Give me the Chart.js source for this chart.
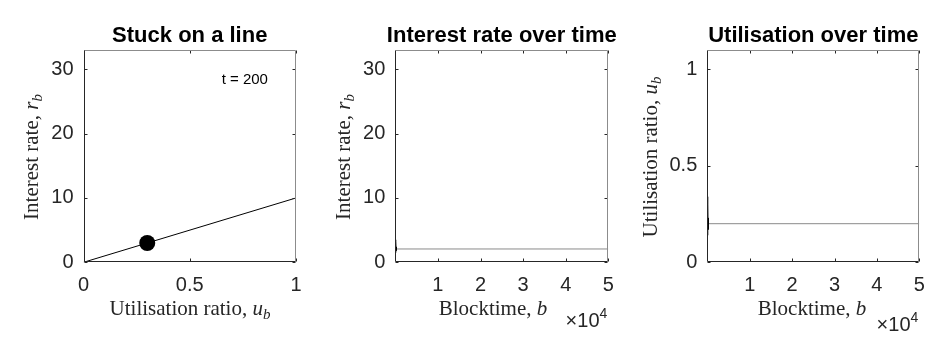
<!DOCTYPE html>
<html>
<head>
<meta charset="utf-8">
<script src="https://cdn.jsdelivr.net/npm/chart.js@4/dist/chart.umd.min.js"></script>
<style>
  body { margin: 0; background: #fff; width: 940px; height: 359px; overflow: hidden; position: relative; }
  .panel { position: absolute; top: 0; height: 359px; }
</style>
</head>
<body>
<div class="panel" style="left:0;width:320px"><canvas id="c1" width="320" height="359"></canvas></div>
<div class="panel" style="left:320px;width:310px"><canvas id="c2" width="310" height="359"></canvas></div>
<div class="panel" style="left:630px;width:310px"><canvas id="c3" width="310" height="359"></canvas></div>
<script>
/* ---- data ---- */
// panel 1: rate curve and the current state
const curveU = [0, 1];
const curveR = [0, 10];
const stateU = [0.3];
const stateR = [3];
const stateLabel = 't = 200';

// panels 2 & 3: short start-up wobble, then flat
const earlyBlock = [0, 60, 120, 180, 240, 300];
const earlyRate = [3.5, 1.5, 3.2, 1.8, 2.4, 2.07];
const earlyUtil = [0.34, 0.14, 0.3, 0.17, 0.23, 0.2];
const lateBlock = [300, 50000];
const lateRate = [2.07, 2.07];
const lateUtil = [0.2, 0.2];

// ticks
const uTicks = [0, 0.5, 1];
const rTicks = [0, 10, 20, 30];
const utilTicks = [0, 0.5, 1];
const blockTicks = [10000, 20000, 30000, 40000, 50000];

const TXT = '#262626';
const SANS = '"Liberation Sans", Arial, sans-serif';
const SERIF = '"Liberation Serif", "Times New Roman", serif';

function pts(xs, ys) { return xs.map((x, i) => ({ x: x, y: ys[i] })); }

// draw a run of differently styled text pieces
function drawRich(ctx, parts, x, y, align, rot) {
    ctx.save();
    ctx.translate(x, y);
    if (rot) ctx.rotate(rot);
    let w = 0;
    parts.forEach(p => { ctx.font = p.font; w += ctx.measureText(p.text).width; });
    let cx = align === 'center' ? -w / 2 : (align === 'right' ? -w : 0);
    ctx.textAlign = 'left';
    ctx.textBaseline = 'alphabetic';
    parts.forEach(p => {
        ctx.font = p.font;
        ctx.fillStyle = p.color || TXT;
        ctx.fillText(p.text, cx, p.dy || 0);
        cx += ctx.measureText(p.text).width;
    });
    ctx.restore();
}

function serifLabel(main, sym, sub) {
    return [
        { text: main, font: '21px ' + SERIF },
        { text: sym, font: 'italic 21px ' + SERIF },
        { text: sub, font: 'italic 15px ' + SERIF, dy: 4 }
    ];
}

// MATLAB-like box, inward ticks and the labels around it
const decor = {
    id: 'decor',
    afterDraw(chart, args, o) {
        const ctx = chart.ctx, a = chart.chartArea;
        const xs = chart.scales.x, ys = chart.scales.y;
        const L = Math.round(a.left) + 0.5, R = Math.round(a.right) - 0.5;
        const T = Math.round(a.top) + 0.5, B = Math.round(a.bottom) - 0.5;
        ctx.save();
        ctx.lineWidth = 1;
        // ticks
        ctx.strokeStyle = TXT;
        ctx.beginPath();
        xs.ticks.forEach(t => {
            const px = Math.round(xs.getPixelForValue(t.value)) + 0.5;
            ctx.moveTo(px, B); ctx.lineTo(px, B - 3);
            ctx.moveTo(px, T); ctx.lineTo(px, T + 3);
        });
        ys.ticks.forEach(t => {
            const py = Math.round(ys.getPixelForValue(t.value)) + 0.5;
            ctx.moveTo(L, py); ctx.lineTo(L + 3, py);
            ctx.moveTo(R, py); ctx.lineTo(R - 3, py);
        });
        ctx.stroke();
        // box
        ctx.strokeStyle = '#8c8c8c';
        ctx.beginPath();
        ctx.moveTo(L, T); ctx.lineTo(R, T); ctx.lineTo(R, B);
        ctx.stroke();
        ctx.strokeStyle = TXT;
        ctx.beginPath();
        ctx.moveTo(L, T); ctx.lineTo(L, B); ctx.lineTo(R, B);
        ctx.stroke();
        ctx.restore();

        // title
        ctx.save();
        ctx.font = 'bold 22px ' + SANS;
        ctx.fillStyle = '#000';
        ctx.textAlign = 'center';
        ctx.textBaseline = 'alphabetic';
        ctx.fillText(o.title, (a.left + a.right) / 2, 42);
        ctx.restore();

        drawRich(ctx, o.xTitle, o.xTitlePos[0], o.xTitlePos[1], 'center');
        drawRich(ctx, o.yTitle, o.yTitleX, 157, 'center', -Math.PI / 2);

        if (o.exponent) {
            drawRich(ctx, [
                { text: '\u00d710', font: '20px ' + SANS },
                { text: '4', font: '14px ' + SANS, dy: -9 }
            ], a.right - 1, o.exponent, 'right');
        }
        if (o.note) {
            ctx.save();
            ctx.font = '15px ' + SANS;
            ctx.fillStyle = '#000';
            ctx.textAlign = 'left';
            ctx.textBaseline = 'middle';
            ctx.fillText(o.note.text, xs.getPixelForValue(o.note.x), ys.getPixelForValue(o.note.y));
            ctx.restore();
        }
    }
};

function axis(min, max, tickVals, fmt, fixed, isX) {
    return {
        type: 'linear',
        min: min,
        max: max,
        grid: { display: false, drawTicks: false },
        border: { display: false },
        afterBuildTicks: s => { s.ticks = tickVals.map(v => ({ value: v })); },
        afterFit: s => { if (isX) s.height = fixed; else s.width = fixed; },
        ticks: {
            color: TXT,
            font: { family: SANS, size: 20 },
            padding: isX ? 11 : 10,
            maxRotation: 0,
            autoSkip: false,
            callback: fmt
        }
    };
}

function makeChart(id, datasets, scales, padRight, decorOpts) {
    return new Chart(document.getElementById(id), {
        type: 'scatter',
        data: { datasets: datasets },
        options: {
            responsive: false,
            animation: false,
            layout: { padding: { top: 50, right: padRight, bottom: 0, left: 0 } },
            plugins: { legend: { display: false }, tooltip: { enabled: false }, decor: decorOpts },
            scales: scales
        },
        plugins: [decor]
    });
}

const plain = v => String(v);
const blockFmt = v => String(v / 10000);

// panel 1
makeChart('c1', [
    { data: pts(stateU, stateR), pointRadius: 8, pointBackgroundColor: '#000', pointBorderWidth: 0, showLine: false },
    { data: pts(curveU, curveR), showLine: true, borderColor: '#000', borderWidth: 1, pointRadius: 0 }
], {
    x: axis(0, 1, uTicks, plain, 96.7, true),
    y: axis(0, 33, rTicks, plain, 83.5, false)
}, 24, {
    title: 'Stuck on a line',
    xTitle: serifLabel('Utilisation ratio, ', 'u', 'b'),
    xTitlePos: [190, 315],
    yTitle: serifLabel('Interest rate, ', 'r', 'b'),
    yTitleX: 38,
    note: { text: stateLabel, x: 0.65, y: 28.3 }
});

// panel 2
makeChart('c2', [
    { data: pts(earlyBlock, earlyRate), showLine: true, borderColor: '#000', borderWidth: 1, pointRadius: 0 },
    { data: pts(lateBlock, lateRate), showLine: true, borderColor: '#8a8a8a', borderWidth: 1, pointRadius: 0 }
], {
    x: axis(0, 50000, blockTicks, blockFmt, 96.7, true),
    y: axis(0, 33, rTicks, plain, 75.3, false)
}, 21.7, {
    title: 'Interest rate over time',
    xTitle: serifLabel('Blocktime, ', 'b', ''),
    xTitlePos: [173, 315],
    yTitle: serifLabel('Interest rate, ', 'r', 'b'),
    yTitleX: 30,
    exponent: 327
});

// panel 3
makeChart('c3', [
    { data: pts(earlyBlock, earlyUtil), showLine: true, borderColor: '#000', borderWidth: 1, pointRadius: 0 },
    { data: pts(lateBlock, lateUtil), showLine: true, borderColor: '#8a8a8a', borderWidth: 1, pointRadius: 0 }
], {
    x: axis(0, 50000, blockTicks, blockFmt, 96.7, true),
    y: axis(0, 1.1, utilTicks, plain, 77.3, false)
}, 20.7, {
    title: 'Utilisation over time',
    xTitle: serifLabel('Blocktime, ', 'b', ''),
    xTitlePos: [182, 315],
    yTitle: serifLabel('Utilisation ratio, ', 'u', 'b'),
    yTitleX: 27,
    exponent: 331
});
</script>
</body>
</html>
